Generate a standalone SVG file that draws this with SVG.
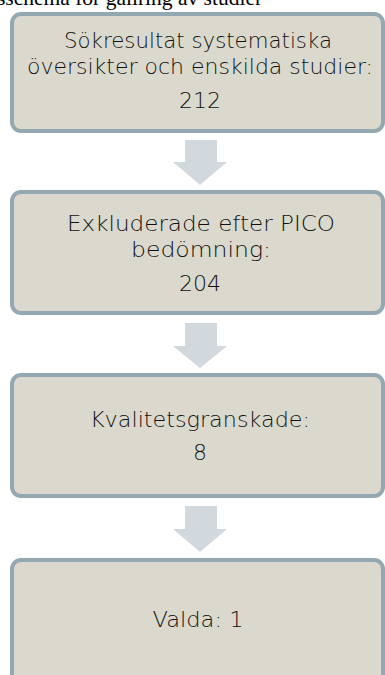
<svg xmlns="http://www.w3.org/2000/svg" width="385" height="675" viewBox="0 0 385 675">
  <style>
    .box { fill: #dbd9cd; stroke: #94a8b2; stroke-width: 4; }
    .lbl { font-family: "DejaVu Sans", sans-serif; font-weight: 200; font-size: 22px; fill: #111111; text-anchor: middle; }
    .title { font-family: "Liberation Serif", serif; font-size: 21.5px; fill: #000; }
    .arrow { fill: #d1d9de; }
  </style>
  <rect width="385" height="675" fill="#ffffff"/>
  <text class="title" x="-3" y="5">sschema för gallring av studier</text>

  <g id="node-sokresultat">
    <rect class="box" x="12" y="14" width="371" height="117" rx="9"/>
    <text class="lbl" x="198" y="48" textLength="268" lengthAdjust="spacingAndGlyphs">Sökresultat systematiska</text>
    <text class="lbl" x="200" y="74" textLength="346" lengthAdjust="spacingAndGlyphs">översikter och enskilda studier:</text>
    <text class="lbl" x="200" y="108">212</text>
  </g>

  <g id="node-exkluderade">
    <rect class="box" x="12" y="192" width="371" height="121" rx="9"/>
    <text class="lbl" x="201" y="231" textLength="268" lengthAdjust="spacingAndGlyphs">Exkluderade efter PICO</text>
    <text class="lbl" x="201" y="257" textLength="140" lengthAdjust="spacingAndGlyphs">bedömning:</text>
    <text class="lbl" x="200" y="291">204</text>
  </g>

  <g id="node-kvalitet">
    <rect class="box" x="12" y="375" width="371" height="121" rx="9"/>
    <text class="lbl" x="200" y="427" textLength="220" lengthAdjust="spacingAndGlyphs">Kvalitetsgranskade:</text>
    <text class="lbl" x="200" y="460">8</text>
  </g>

  <g id="node-valda">
    <rect class="box" x="12" y="560" width="371" height="130" rx="9"/>
    <text class="lbl" x="198" y="627" textLength="91" lengthAdjust="spacingAndGlyphs">Valda: 1</text>
  </g>

  <g id="connectors">
    <polygon class="arrow" points="185,140 217,140 217,162 227,162 200,185 173,162 185,162"/>
    <polygon class="arrow" points="185,323 217,323 217,346 227,346 200,368 173,346 185,346"/>
    <polygon class="arrow" points="185,506 217,506 217,529 227,529 200,552 173,529 185,529"/>
  </g>
</svg>
